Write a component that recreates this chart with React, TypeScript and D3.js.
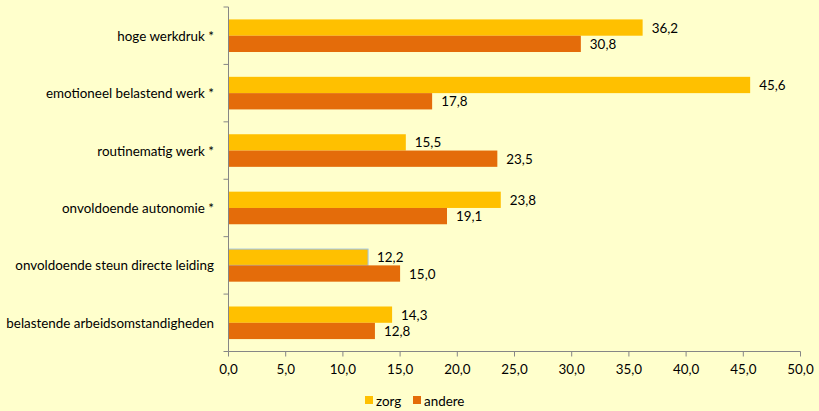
import React from "react";
import * as d3 from "d3";

const categories = [
  "hoge werkdruk *",
  "emotioneel belastend werk *",
  "routinematig werk *",
  "onvoldoende autonomie *",
  "onvoldoende steun directe leiding",
  "belastende arbeidsomstandigheden",
];
const zorg = [36.2, 45.6, 15.5, 23.8, 12.2, 14.3];
const andere = [30.8, 17.8, 23.5, 19.1, 15.0, 12.8];
const seriesNames = ["zorg", "andere"];
const xTicks = [0, 5, 10, 15, 20, 25, 30, 35, 40, 45, 50];

const W = 819;
const H = 411;
const left = 228.5;
const right = 800.5;
const top = 7;
const bottom = 351.5;
const colors = ["#FFC000", "#E46C0A"];
const axisColor = "#868686";
const font = "Lato, 'Open Sans', sans-serif";
const fs = 13.4;

const fmt = (v: number) => v.toFixed(1).replace(".", ",");

export default function App() {
  const x = d3.scaleLinear().domain([0, 50]).range([left, right]);
  const y = d3.scaleBand<string>().domain(categories).range([top, bottom]);
  const inner = d3
    .scaleBand<string>()
    .domain(seriesNames)
    .range([0, 32.6])
    .paddingInner(0);
  const offset = (y.bandwidth() - 32.6) / 2;
  const series = [zorg, andere];

  return (
    <svg
      width={W}
      height={H}
      style={{ position: "absolute", left: 0, top: 0, background: "#FFFFCC" }}
      fontFamily={font}
    >
      <rect x={0} y={0} width={W} height={H} fill="#FFFFCC" />
      {categories.map((c, i) =>
        series.map((s, j) => (
          <rect
            key={c + j}
            x={x(0)}
            y={(y(c) as number) + offset + (inner(seriesNames[j]) as number)}
            width={x(s[i]) - x(0)}
            height={inner.bandwidth()}
            fill={colors[j]}
            stroke={i === 4 && j === 0 ? "#9DC3E6" : "none"}
            strokeWidth={1}
          />
        ))
      )}
      {categories.map((c, i) =>
        series.map((s, j) => (
          <text
            key={"l" + c + j}
            x={x(s[i]) + 9}
            y={(y(c) as number) + offset + (inner(seriesNames[j]) as number) + inner.bandwidth() / 2}
            dominantBaseline="central"
            fontSize={fs}
            fill="#000"
          >
            {fmt(s[i])}
          </text>
        ))
      )}
      {/* y axis */}
      <line x1={left} x2={left} y1={top} y2={bottom} stroke={axisColor} />
      {[...categories.map((c) => y(c) as number), bottom].map((v, i) => (
        <line key={"yt" + i} x1={left - 5} x2={left} y1={v} y2={v} stroke={axisColor} />
      ))}
      {categories.map((c) => (
        <text
          key={"cl" + c}
          x={214}
          y={(y(c) as number) + y.bandwidth() / 2}
          textAnchor="end"
          dominantBaseline="central"
          fontSize={fs}
          fill="#000"
        >
          {c}
        </text>
      ))}
      {/* x axis */}
      <line x1={left} x2={right} y1={bottom} y2={bottom} stroke={axisColor} />
      {xTicks.map((t) => (
        <g key={"xt" + t}>
          <line x1={x(t)} x2={x(t)} y1={bottom} y2={bottom + 5} stroke={axisColor} />
          <text x={x(t)} y={369} textAnchor="middle" dominantBaseline="central" fontSize={fs} fill="#000">
            {fmt(t)}
          </text>
        </g>
      ))}
      {/* legend */}
      {seriesNames.map((n, j) => {
        const lx = j === 0 ? 365 : 413;
        return (
          <g key={"lg" + n}>
            <rect x={lx} y={396} width={8} height={8} fill={colors[j]} />
            <text x={lx + 11} y={400.5} dominantBaseline="central" fontSize={fs} fill="#000">
              {n}
            </text>
          </g>
        );
      })}
    </svg>
  );
}
